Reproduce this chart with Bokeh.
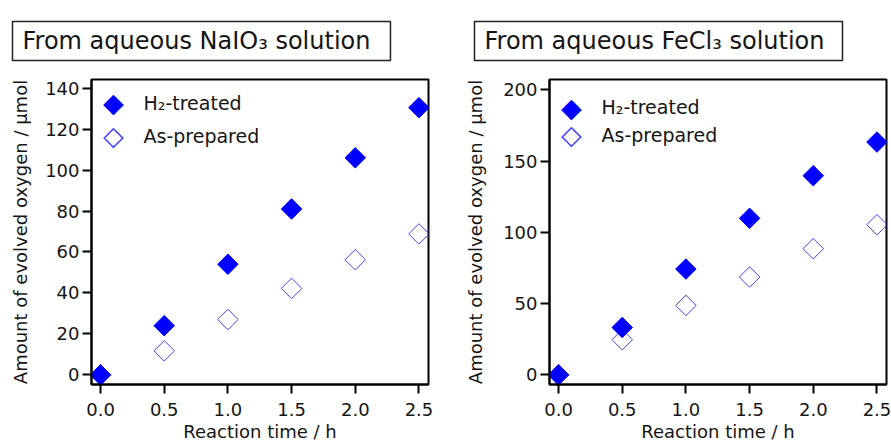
import math
from bokeh.plotting import figure
from bokeh.models import Range1d, FixedTicker, PrintfTickFormatter, Label
from bokeh.layouts import row
from bokeh.embed import file_html
from bokeh.resources import INLINE

# ---- data ----
time_h = [0.0, 0.5, 1.0, 1.5, 2.0, 2.5]
naio3_h2_treated = [0, 24, 54, 81, 106, 130.5]
naio3_as_prepared = [0, 11.7, 27, 42.2, 56.2, 68.8]
fecl3_h2_treated = [0, 33.2, 74.2, 109.8, 139.7, 163.3]
fecl3_as_prepared = [0, 24.6, 48.7, 68.6, 88.5, 105.3]
x_ticks = [0.0, 0.5, 1.0, 1.5, 2.0, 2.5]
naio3_y_ticks = [0, 20, 40, 60, 80, 100, 120, 140]
fecl3_y_ticks = [0, 50, 100, 150, 200]
titles = ["From aqueous NaIO\u2083 solution", "From aqueous FeCl\u2083 solution"]
series_labels = ["H\u2082-treated", "As-prepared"]
x_label = "Reaction time / h"
y_label = "Amount of evolved oxygen / \u03bcmol"

FONT = "DejaVu Sans"
TXT = "#151515"
BLUE = "#0000ff"
OPEN_BLUE = "#4040ff"


def make_panel(title, h2, asp, yticks, yr, border_left, border_right,
               title_off, title_pad_r, leg_y, ylab_standoff):
    p = figure(
        output_backend="svg", toolbar_location=None,
        frame_width=337, frame_height=305,
        min_border_left=border_left, min_border_right=border_right,
        min_border_top=78, min_border_bottom=57,
        x_range=Range1d(-0.071, 2.575), y_range=Range1d(*yr),
    )
    p.xgrid.visible = False
    p.ygrid.visible = False
    p.outline_line_color = "black"
    p.outline_line_width = 2
    p.background_fill_color = "white"
    p.border_fill_color = "white"

    for ax in (p.xaxis[0], p.yaxis[0]):
        ax.axis_line_width = 2
        ax.axis_line_color = "black"
        ax.major_tick_line_width = 2
        ax.major_tick_line_color = "black"
        ax.major_tick_in = 0
        ax.major_tick_out = 9
        ax.minor_tick_line_color = None
        ax.major_label_text_font = FONT
        ax.major_label_text_font_size = "18px"
        ax.major_label_text_color = TXT
        ax.axis_label_text_font = FONT
        ax.axis_label_text_font_size = "18px"
        ax.axis_label_text_font_style = "normal"
        ax.axis_label_text_color = TXT

    p.xaxis.ticker = FixedTicker(ticks=x_ticks)
    p.xaxis.formatter = PrintfTickFormatter(format="%.1f")
    p.xaxis.axis_label = x_label
    p.xaxis.major_label_standoff = 9
    p.xaxis.axis_label_standoff = 2

    p.yaxis.ticker = FixedTicker(ticks=yticks)
    p.yaxis.axis_label = y_label
    p.yaxis.major_label_standoff = 3
    p.yaxis.axis_label_standoff = ylab_standoff

    p.scatter(time_h, asp, marker="square", angle=math.pi / 4, size=14.5,
              fill_color=None, line_color=OPEN_BLUE, line_width=1)
    p.scatter(time_h, h2, marker="square", angle=math.pi / 4, size=14.5,
              fill_color=BLUE, line_color=BLUE, line_width=1)

    # legend (markers as diamond characters, labels as text)
    for sym, col, lab, yy in (("\u25c6", BLUE, series_labels[0], leg_y[0]),
                              ("\u25c7", OPEN_BLUE, series_labels[1], leg_y[1])):
        p.add_layout(Label(x=22, y=yy, x_units="screen", y_units="screen", text=sym,
                           text_font=FONT, text_font_size="27px", text_color=col,
                           text_align="center", text_baseline="middle"))
        p.add_layout(Label(x=52, y=yy, x_units="screen", y_units="screen", text=lab,
                           text_font=FONT, text_font_size="19px", text_color=TXT,
                           text_align="left", text_baseline="middle"))

    # boxed panel title, lifted off the frame by its standoff
    p.title.text = title
    p.title.align = "left"
    p.title.offset = title_off
    p.title.standoff = 38
    p.title.text_font = FONT
    p.title.text_font_size = "24px"
    p.title.text_color = TXT
    p.title.text_font_style = "normal"
    p.title.background_fill_color = "white"
    p.title.border_line_color = "#222222"
    p.title.border_line_width = 1.5
    p.title.padding = dict(left=10, right=title_pad_r, top=5, bottom=6)
    return p


p1 = make_panel(titles[0], naio3_h2_treated, naio3_as_prepared, naio3_y_ticks,
                (-4.74, 144.25), 91, 12, -79, 20, (282, 249), 11)
p2 = make_panel(titles[1], fecl3_h2_treated, fecl3_as_prepared, fecl3_y_ticks,
                (-6.8, 207.2), 109, 5, -75, 18, (277.5, 250), 14)

layout = row(p1, p2, spacing=0)
open("out.html", "w").write(file_html(layout, INLINE))
